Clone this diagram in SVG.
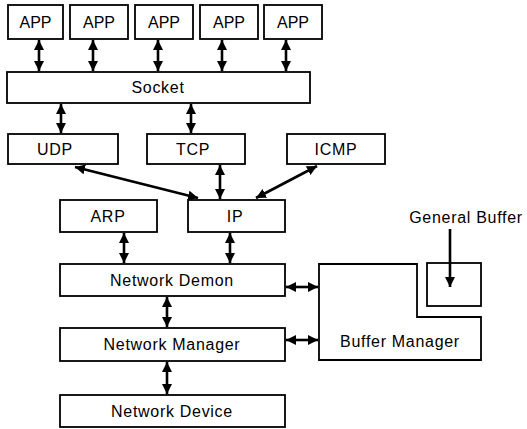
<svg xmlns="http://www.w3.org/2000/svg" width="527" height="429" viewBox="0 0 527 429">
<defs>
<style>
.box{fill:#fff;stroke:#000;stroke-width:1.8}
.lbl{font-family:"Liberation Sans",Arial,sans-serif;font-size:16px;letter-spacing:0.7px;fill:#000;text-anchor:middle}
.app{letter-spacing:0}
.con{stroke:#000;stroke-width:2.6;fill:none}
</style>
<marker id="ah" viewBox="0 0 10 10" refX="10" refY="5" markerWidth="10" markerHeight="10" markerUnits="userSpaceOnUse" orient="auto-start-reverse">
<path d="M0,0 L10,5 L0,10 z" fill="#000"/>
</marker>
</defs>
<rect width="527" height="429" fill="#fff"/>
<g id="app1"><rect class="box" x="8" y="5" width="55" height="34"/><text class="lbl app" x="35.5" y="28">APP</text></g>
<g id="app2"><rect class="box" x="70" y="5" width="58" height="34"/><text class="lbl app" x="99" y="28">APP</text></g>
<g id="app3"><rect class="box" x="135" y="5" width="58" height="34"/><text class="lbl app" x="164" y="28">APP</text></g>
<g id="app4"><rect class="box" x="200" y="5" width="58" height="34"/><text class="lbl app" x="229" y="28">APP</text></g>
<g id="app5"><rect class="box" x="264" y="5" width="58" height="34"/><text class="lbl app" x="293" y="28">APP</text></g>
<g id="socket"><rect class="box" x="7" y="72" width="303" height="31"/><text class="lbl" x="158" y="93">Socket</text></g>
<g id="udp"><rect class="box" x="8" y="134" width="110" height="30"/><text class="lbl" x="55" y="155">UDP</text></g>
<g id="tcp"><rect class="box" x="147" y="134" width="98" height="30"/><text class="lbl" x="193" y="155">TCP</text></g>
<g id="icmp"><rect class="box" x="287" y="134" width="98" height="30"/><text class="lbl" x="336" y="155">ICMP</text></g>
<g id="arp"><rect class="box" x="60" y="200" width="97" height="32"/><text class="lbl" x="108" y="222">ARP</text></g>
<g id="ip"><rect class="box" x="188" y="200" width="97" height="32"/><text class="lbl" x="235" y="222">IP</text></g>
<g id="netdemon"><rect class="box" x="60" y="264" width="225" height="32"/><text class="lbl" x="172" y="286">Network Demon</text></g>
<g id="netmanager"><rect class="box" x="60" y="328" width="225" height="33"/><text class="lbl" x="172" y="350">Network Manager</text></g>
<g id="netdevice"><rect class="box" x="60" y="395" width="225" height="32"/><text class="lbl" x="172" y="417">Network Device</text></g>
<g id="buffermanager"><path class="box" d="M319,264 H417 V317 H481 V360 H319 Z"/><text class="lbl" x="400" y="347">Buffer Manager</text></g>
<g id="generalbuffer"><rect class="box" x="427" y="263" width="54" height="43"/><text class="lbl" x="466" y="223">General Buffer</text></g>
<g id="connectors">
<line class="con" x1="39" y1="40" x2="39" y2="71" marker-start="url(#ah)" marker-end="url(#ah)"/>
<line class="con" x1="93" y1="40" x2="93" y2="71" marker-start="url(#ah)" marker-end="url(#ah)"/>
<line class="con" x1="158" y1="40" x2="158" y2="71" marker-start="url(#ah)" marker-end="url(#ah)"/>
<line class="con" x1="222" y1="40" x2="222" y2="71" marker-start="url(#ah)" marker-end="url(#ah)"/>
<line class="con" x1="286" y1="40" x2="286" y2="71" marker-start="url(#ah)" marker-end="url(#ah)"/>
<line class="con" x1="61" y1="104" x2="61" y2="133" marker-start="url(#ah)" marker-end="url(#ah)"/>
<line class="con" x1="191" y1="104" x2="191" y2="133" marker-start="url(#ah)" marker-end="url(#ah)"/>
<line class="con" x1="75" y1="167" x2="198" y2="198" marker-start="url(#ah)" marker-end="url(#ah)"/>
<line class="con" x1="220" y1="165" x2="220" y2="199" marker-start="url(#ah)" marker-end="url(#ah)"/>
<line class="con" x1="317" y1="166" x2="256" y2="198" marker-start="url(#ah)" marker-end="url(#ah)"/>
<line class="con" x1="124" y1="233" x2="124" y2="263" marker-start="url(#ah)" marker-end="url(#ah)"/>
<line class="con" x1="230" y1="233" x2="230" y2="263" marker-start="url(#ah)" marker-end="url(#ah)"/>
<line class="con" x1="167" y1="297" x2="167" y2="327" marker-start="url(#ah)" marker-end="url(#ah)"/>
<line class="con" x1="167" y1="362" x2="167" y2="394" marker-start="url(#ah)" marker-end="url(#ah)"/>
<line class="con" x1="286" y1="287" x2="318" y2="287" marker-start="url(#ah)" marker-end="url(#ah)"/>
<line class="con" x1="286" y1="340" x2="318" y2="340" marker-start="url(#ah)" marker-end="url(#ah)"/>
<line class="con" x1="450" y1="229" x2="450" y2="287" marker-end="url(#ah)"/>
</g>
</svg>
